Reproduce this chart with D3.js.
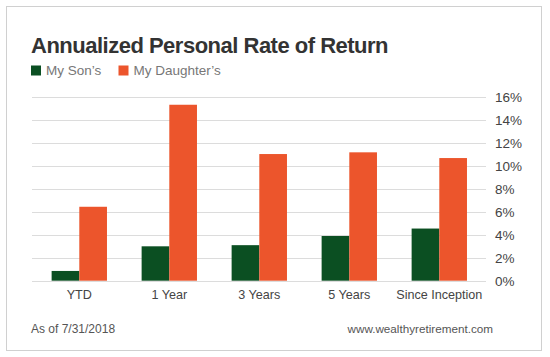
<!DOCTYPE html>
<html><head><meta charset="utf-8">
<script src="https://cdn.jsdelivr.net/npm/d3@7"></script>
<style>body{margin:0;background:#fff;}svg{display:block;font-family:"Liberation Sans",Arial,sans-serif;}</style>
</head><body>
<script>
const categories = ["YTD","1 Year","3 Years","5 Years","Since Inception"];
const seriesNames = ["My Son\u2019s","My Daughter\u2019s"];
const sonValues = [0.85, 3.0, 3.1, 3.9, 4.55];
const daughterValues = [6.45, 15.35, 11.05, 11.2, 10.7];
const yTicks = [0,2,4,6,8,10,12,14,16];
const colors = ["#0b4f22","#ec552c"];

const W=550,H=357;
const svg=d3.select("body").append("svg").attr("width",W).attr("height",H);
svg.append("rect").attr("x",6.5).attr("y",6.5).attr("width",535).attr("height",344).attr("fill","#fff").attr("stroke","#d0d0d0");

const y=d3.scaleLinear().domain([0,16]).range([280.7,97.3]);
const x=d3.scaleBand().domain(categories).range([34.3,484.3]).paddingInner(0.385).paddingOuter(0.1925);
const xs=d3.scaleBand().domain(seriesNames).range([0,x.bandwidth()]);

// grid
svg.append("g").selectAll("line").data(yTicks).join("line")
 .attr("x1",32).attr("x2",486).attr("y1",d=>Math.round(y(d))+0.5).attr("y2",d=>Math.round(y(d))+0.5)
 .attr("stroke","#dcdcdc").attr("stroke-width",1);

// y axis labels
const yAxis=d3.axisRight(y).tickValues(yTicks).tickSize(0).tickPadding(0).tickFormat(d=>d+"%");
const ga=svg.append("g").attr("transform","translate(495,0)").call(yAxis);
ga.select(".domain").remove();
ga.selectAll("text").attr("font-size",13.5).attr("fill","#444").attr("font-family","Liberation Sans, Arial, sans-serif");

// bars
const series=[sonValues,daughterValues];
series.forEach((vals,si)=>{
  svg.append("g").selectAll("rect").data(vals).join("rect")
   .attr("x",(d,i)=>x(categories[i])+xs(seriesNames[si]))
   .attr("width",xs.bandwidth())
   .attr("y",d=>y(d)).attr("height",d=>y(0)-y(d))
   .attr("fill",colors[si]);
});

// x axis labels
const xAxis=d3.axisBottom(x).tickSize(0).tickPadding(0);
const gx=svg.append("g").attr("transform","translate(0,290)").call(xAxis);
gx.select(".domain").remove();
gx.selectAll("text").attr("font-size",12.6).attr("fill","#444").attr("font-family","Liberation Sans, Arial, sans-serif");

// title
svg.append("text").attr("x",31).attr("y",53).text("Annualized Personal Rate of Return")
 .attr("font-size",22).attr("font-weight","bold").attr("letter-spacing",-0.5).attr("fill","#333");

// legend
const legX=[31,118.5];
seriesNames.forEach((n,i)=>{
  svg.append("rect").attr("x",legX[i]).attr("y",65.5).attr("width",10).attr("height",10).attr("fill",colors[i]);
  svg.append("text").attr("x",legX[i]+15).attr("y",75).text(n).attr("font-size",13.5).attr("fill","#777");
});

// footer
svg.append("text").attr("x",31).attr("y",333).text("As of 7/31/2018").attr("font-size",12).attr("fill","#555");
svg.append("text").attr("x",493).attr("y",333).attr("text-anchor","end").text("www.wealthyretirement.com").attr("font-size",11.7).attr("fill","#555");
</script>
</body></html>
